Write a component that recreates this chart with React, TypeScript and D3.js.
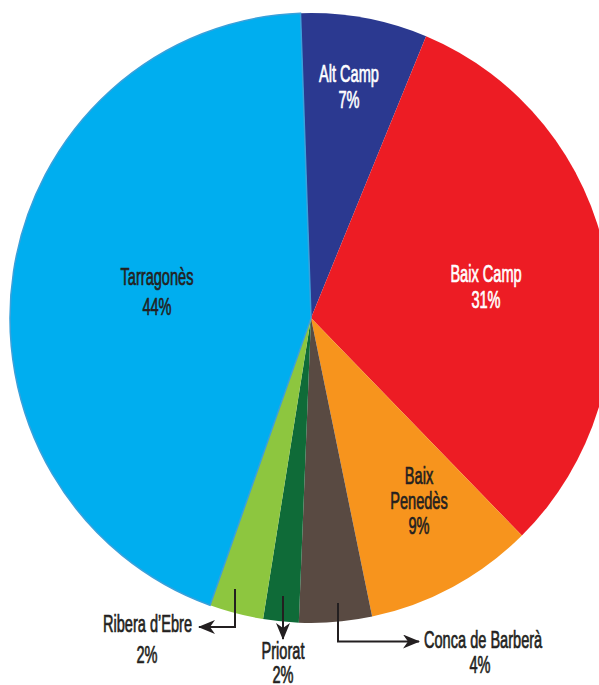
import React from "react";
import * as d3 from "d3";

const regions = ["Alt Camp", "Baix Camp", "Baix Penedès", "Conca de Barberà", "Priorat", "Ribera d’Ebre", "Tarragonès"];
const shares = [6.8, 31.4, 9.1, 3.9, 1.9, 2.9, 44.0];
const shareLabels = ["7%", "31%", "9%", "4%", "2%", "2%", "44%"];
const colors = ["#2b3990", "#ed1c24", "#f7941d", "#594a42", "#0f6b38", "#8dc63f", "#00aeef"];

const W = 599, H = 685;
const CX = 311, CY = 318, R = 301, SY = 1.013;
const FONT = "'Liberation Sans', Arial, sans-serif";
const DARK = "#231f20";
const FS = 23.5;
const SX = 0.62;

function Label({ x, y, text, fill, anchor = "middle" }: { x: number; y: number; text: string; fill: string; anchor?: string }) {
  return (
    <text transform={`translate(${x},${y}) scale(${SX},1)`} textAnchor={anchor as any} fill={fill}
      stroke={fill} strokeWidth={0.7} fontSize={FS} fontFamily={FONT}>
      {text}
    </text>
  );
}

export default function App() {
  const pie = d3.pie<number>().sort(null).value(d => d)
    .startAngle(-2 * Math.PI / 180).endAngle(2 * Math.PI - 2 * Math.PI / 180);
  const arcs = pie(shares);
  const arc = d3.arc<d3.PieArcDatum<number>>().innerRadius(0).outerRadius(R);

  return (
    <svg width={W} height={H} style={{ position: "absolute", left: 0, top: 0, background: "#fff" }}>
      <defs>
        <marker id="ah" viewBox="0 0 17 14" refX="16" refY="7" markerWidth="17" markerHeight="14"
          orient="auto" markerUnits="userSpaceOnUse">
          <path d="M0,0 L17,7 L0,14 L5,7 Z" fill={DARK} />
        </marker>
      </defs>
      <g transform={`translate(${CX},${CY}) scale(1,${SY})`}>
        {arcs.map((a, i) => (
          <path key={regions[i]} d={arc(a) || ""} fill={colors[i]}
            stroke={i === 6 ? "#3aa0da" : "none"} strokeWidth={i === 6 ? 1.5 : 0} />
        ))}
      </g>
      {/* inside labels */}
      <Label x={349} y={82} text={regions[0]} fill="#fff" />
      <Label x={349} y={108} text={shareLabels[0]} fill="#fff" />
      <Label x={486} y={282} text={regions[1]} fill="#fff" />
      <Label x={486} y={308} text={shareLabels[1]} fill="#fff" />
      <Label x={419} y={484} text="Baix" fill={DARK} />
      <Label x={419} y={509} text="Penedès" fill={DARK} />
      <Label x={419} y={534} text={shareLabels[2]} fill={DARK} />
      <Label x={157} y={285} text={regions[6]} fill={DARK} />
      <Label x={157} y={315} text={shareLabels[6]} fill={DARK} />
      {/* Leaders */}
      <g stroke={DARK} strokeWidth={2} fill="none">
        <path d="M235,589 L235,627 L199,627" markerEnd="url(#ah)" />
        <path d="M283,596 L283,639" markerEnd="url(#ah)" />
        <path d="M338,603 L338,641.5 L419,641.5" markerEnd="url(#ah)" />
      </g>
      <Label x={192} y={632} text={regions[5]} fill={DARK} anchor="end" />
      <Label x={147} y={663} text={shareLabels[5]} fill={DARK} />
      <Label x={283} y={659} text={regions[4]} fill={DARK} />
      <Label x={283} y={683} text={shareLabels[4]} fill={DARK} />
      <Label x={424} y={648} text={regions[3]} fill={DARK} anchor="start" />
      <Label x={480} y={673} text={shareLabels[3]} fill={DARK} />
    </svg>
  );
}
